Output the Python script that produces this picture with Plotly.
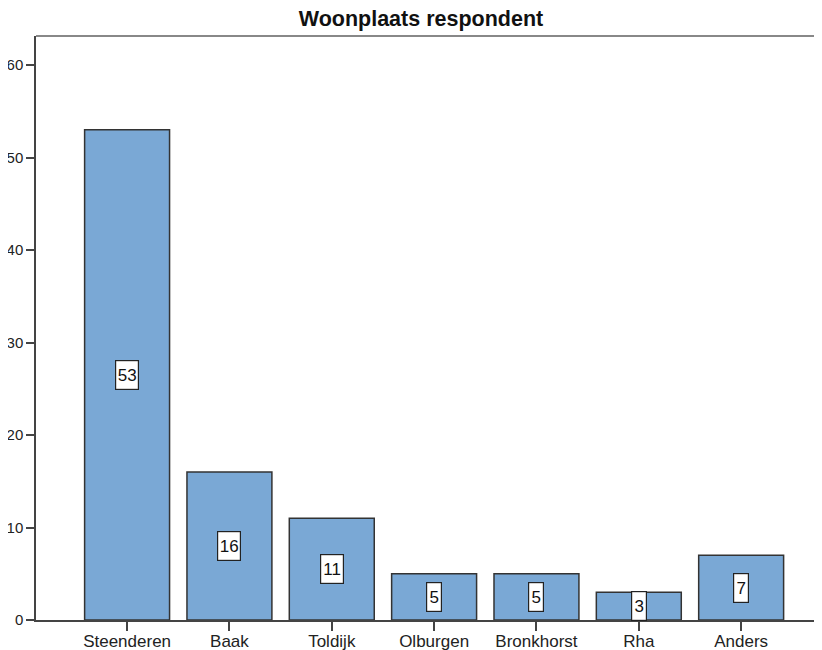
import plotly.graph_objects as go

categories = ["Steenderen", "Baak", "Toldijk", "Olburgen", "Bronkhorst", "Rha", "Anders"]
counts = [53, 16, 11, 5, 5, 3, 7]
y_ticks = [0, 10, 20, 30, 40, 50, 60]
title_text = "Woonplaats respondent"

FONT = "Liberation Sans, Arial, sans-serif"

fig = go.Figure()
fig.add_trace(go.Bar(
    x=list(range(len(categories))),
    y=counts,
    width=0.83,
    marker=dict(color="#7aa8d5", line=dict(color="#333333", width=1.5)),
    hoverinfo="skip",
))

for i, v in enumerate(counts):
    txt = str(v)
    fig.add_annotation(
        x=i, y=v / 2, text=txt, showarrow=False,
        font=dict(family=FONT, size=17, color="#111111"),
        width=8 * len(txt) + 4, height=26,
        bgcolor="white", bordercolor="#222222", borderwidth=1.2, borderpad=1,
    )

fig.add_shape(type="line", xref="paper", yref="paper", x0=0, x1=1.02, y0=1, y1=1,
              line=dict(color="#888888", width=2))

fig.update_layout(
    width=822, height=650,
    margin=dict(l=28, r=8, t=28, b=38),
    paper_bgcolor="white", plot_bgcolor="white",
    showlegend=False,
    title=dict(text="<b>" + title_text + "</b>", x=413 / 822, xanchor="center",
               y=1, yanchor="top", pad=dict(t=3, b=0),
               font=dict(family=FONT, size=21.5, color="#111111")),
    xaxis=dict(
        range=[-0.89, 6.79], tickmode="array",
        tickvals=list(range(len(categories))), ticktext=categories,
        showline=True, linecolor="#444444", linewidth=1.5,
        ticks="outside", ticklen=9, tickwidth=1.5, tickcolor="#444444",
        ticklabelstandoff=-4,
        showgrid=False, zeroline=False, automargin=False,
        tickfont=dict(family=FONT, size=17, color="#222222"),
    ),
    yaxis=dict(
        range=[0, 63.14], tickmode="array", tickvals=y_ticks,
        showline=True, linecolor="#444444", linewidth=1.5,
        ticks="outside", ticklen=8, tickwidth=1.5, tickcolor="#444444",
        showgrid=False, zeroline=False, automargin=False,
        tickfont=dict(family=FONT, size=15, color="#222222"),
    ),
)

fig.write_html("out.html")
